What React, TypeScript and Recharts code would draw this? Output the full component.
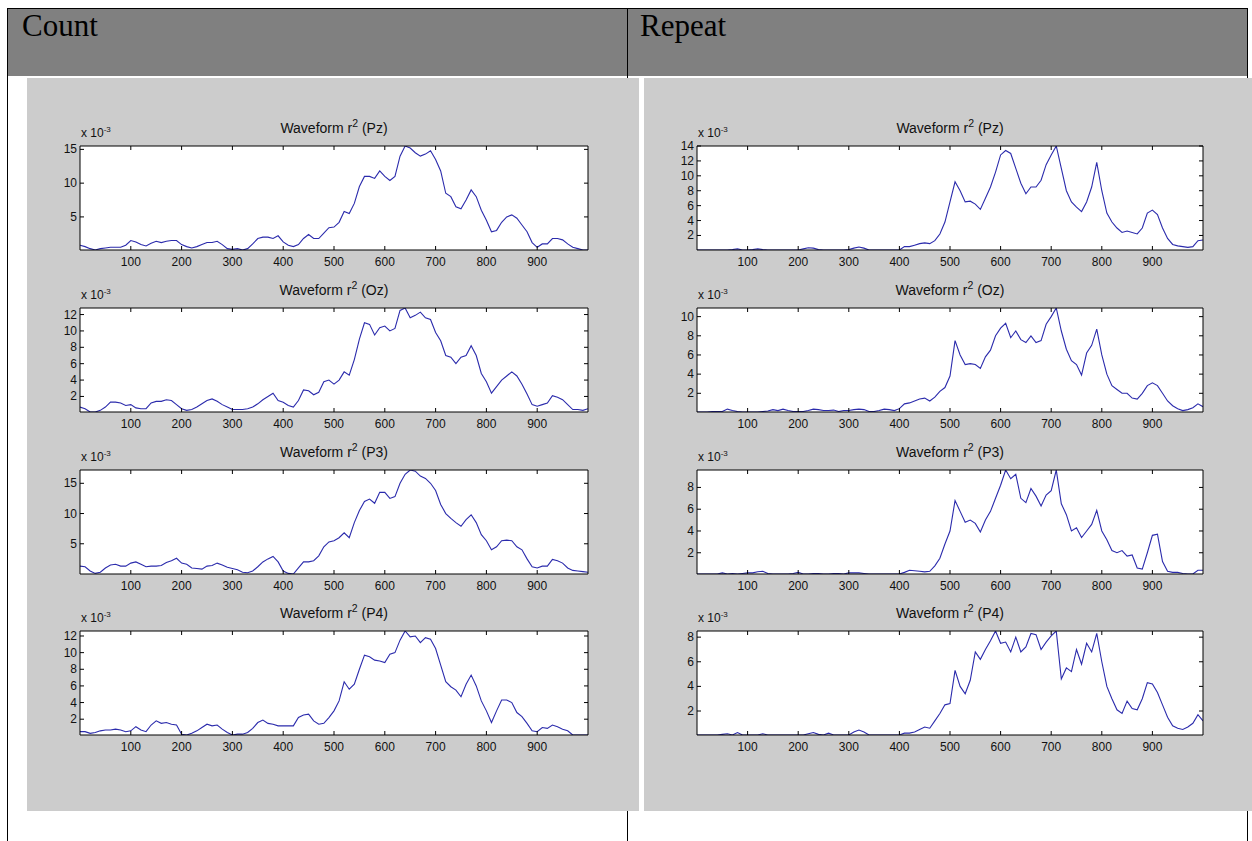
import React from "react";
import { LineChart, Line, XAxis, YAxis, CartesianGrid } from "recharts";

// time axis, ms (sample every 10 ms)
const SAMPLE_MS = [
  0, 10, 20, 30, 40, 50, 60, 70, 80, 90,
  100, 110, 120, 130, 140, 150, 160, 170, 180, 190,
  200, 210, 220, 230, 240, 250, 260, 270, 280, 290,
  300, 310, 320, 330, 340, 350, 360, 370, 380, 390,
  400, 410, 420, 430, 440, 450, 460, 470, 480, 490,
  500, 510, 520, 530, 540, 550, 560, 570, 580, 590,
  600, 610, 620, 630, 640, 650, 660, 670, 680, 690,
  700, 710, 720, 730, 740, 750, 760, 770, 780, 790,
  800, 810, 820, 830, 840, 850, 860, 870, 880, 890,
  900, 910, 920, 930, 940, 950, 960, 970, 980, 990,
  1000,
];

// r^2 values, x 10^-3
const COUNT_PZ = [
  0.8, 0.6, 0.3, 0.1, 0.3, 0.4, 0.5, 0.5, 0.5, 0.8,
  1.5, 1.3, 0.9, 0.7, 1.1, 1.4, 1.2, 1.4, 1.5, 1.5,
  0.9, 0.6, 0.4, 0.6, 0.9, 1.2, 1.2, 1.4, 0.9, 0.3,
  0.2, 0.3, 0.1, 0.3, 1.0, 1.8, 2.0, 2.0, 1.8, 2.2,
  1.3, 0.8, 0.6, 0.9, 1.8, 2.4, 1.8, 1.8, 2.6, 3.4,
  3.5, 4.2, 5.8, 5.5, 7.0, 9.5, 11.0, 11.0, 10.7, 11.8,
  11.0, 10.4, 11.0, 14.0, 15.5, 15.2, 14.5, 14.0, 14.3, 14.8,
  13.5, 11.8, 8.5, 8.0, 6.5, 6.2, 7.5, 9.0, 8.0, 6.0,
  4.5, 2.8, 3.0, 4.2, 5.0, 5.3, 4.8, 3.8, 2.8, 1.2,
  0.5, 1.0, 1.0, 1.8, 1.8, 1.6, 1.0, 0.5, 0.3, 0.1,
  0.1,
];
const COUNT_OZ = [
  0.7, 0.5, 0.1, 0.1, 0.3, 0.7, 1.3, 1.3, 1.2, 0.9,
  1.0, 0.6, 0.5, 0.5, 1.2, 1.4, 1.4, 1.6, 1.5, 1.0,
  0.5, 0.3, 0.4, 0.7, 1.1, 1.5, 1.7, 1.4, 1.0, 0.7,
  0.4, 0.4, 0.4, 0.5, 0.7, 1.1, 1.6, 2.0, 2.4, 1.5,
  1.3, 0.9, 0.7, 1.5, 2.8, 2.7, 2.2, 2.5, 3.8, 4.0,
  3.5, 4.0, 5.0, 4.6, 6.5, 9.0, 11.0, 10.8, 9.5, 10.4,
  10.6, 10.0, 10.3, 12.5, 12.8, 11.6, 11.9, 12.3, 11.6, 11.4,
  9.8, 8.8, 7.0, 6.8, 6.0, 6.8, 7.0, 8.2, 7.0, 4.8,
  3.8, 2.4, 3.2, 4.0, 4.5, 5.0, 4.5, 3.5, 2.3, 1.0,
  0.8, 1.0, 1.2, 2.1, 1.9, 1.6, 1.0, 0.4, 0.4, 0.3,
  0.5,
];
const COUNT_P3 = [
  1.3, 1.2, 0.5, 0.1, 0.3, 1.0, 1.5, 1.6, 1.3, 1.3,
  1.8, 2.0, 1.6, 1.2, 1.3, 1.3, 1.4, 1.9, 2.2, 2.6,
  1.8, 1.6, 1.0, 0.9, 0.8, 1.3, 1.4, 1.8, 1.5, 1.1,
  0.9, 0.7, 0.3, 0.2, 0.5, 1.2, 2.0, 2.5, 2.9, 2.0,
  0.5, 0.1, 0.0, 1.0, 2.0, 2.0, 2.2, 3.0, 4.5, 5.3,
  5.5, 6.0, 6.8, 6.0, 8.5, 10.5, 12.0, 12.4, 11.7, 13.5,
  13.5, 12.5, 12.8, 15.0, 16.5, 17.2, 17.0, 16.2, 15.8, 15.0,
  13.8, 11.5, 10.0, 9.2, 8.5, 7.9, 9.0, 9.8, 8.5, 6.5,
  5.5, 4.0, 4.5, 5.5, 5.6, 5.5, 4.5, 4.0, 2.5, 1.2,
  1.0, 1.3, 1.3, 2.4, 2.2, 1.8, 1.0, 0.6, 0.5, 0.4,
  0.3,
];
const COUNT_P4 = [
  0.5, 0.5, 0.3, 0.4, 0.6, 0.7, 0.7, 0.8, 0.7, 0.5,
  0.6, 1.1, 0.7, 0.5, 1.3, 1.8, 1.5, 1.6, 1.4, 1.3,
  0.2, 0.1, 0.3, 0.6, 1.0, 1.4, 1.2, 1.3, 0.8, 0.4,
  0.1, 0.2, 0.2, 0.4, 0.9, 1.6, 1.9, 1.5, 1.4, 1.2,
  1.2, 1.2, 1.2, 2.2, 2.5, 2.6, 1.8, 1.4, 1.5, 2.2,
  3.0, 4.2, 6.5, 5.6, 6.2, 8.0, 9.7, 9.5, 9.1, 9.0,
  8.8, 9.8, 10.0, 11.5, 12.6, 11.9, 12.0, 11.2, 11.8, 11.6,
  10.5, 8.5, 6.5, 5.9, 5.5, 4.7, 6.2, 7.3, 6.0, 4.2,
  3.0, 1.6, 3.0, 4.3, 4.3, 4.0, 2.8, 2.3, 1.5, 0.6,
  0.5, 1.0, 0.9, 1.3, 1.1, 0.8, 0.6, 0.1, 0.1, 0.1,
  0.1,
];
const REPEAT_PZ = [
  0.05, 0.05, 0.05, 0.05, 0.05, 0.05, 0.05, 0.1, 0.2, 0.05,
  0.05, 0.1, 0.2, 0.1, 0.05, 0.05, 0.05, 0.05, 0.05, 0.05,
  0.05, 0.2, 0.35, 0.3, 0.1, 0.05, 0.05, 0.05, 0.05, 0.05,
  0.1, 0.3, 0.45, 0.3, 0.05, 0.05, 0.05, 0.05, 0.05, 0.05,
  0.05, 0.5, 0.5, 0.7, 0.9, 1.0, 0.9, 1.3, 2.2, 3.8,
  6.5, 9.2, 8.0, 6.5, 6.6, 6.2, 5.5, 7.0, 8.5, 10.5,
  12.8, 13.4, 13.0, 11.0, 9.0, 7.6, 8.5, 8.5, 9.4, 11.5,
  12.8, 14.0, 11.0, 8.0, 6.5, 5.8, 5.2, 6.5, 8.5, 11.8,
  8.0, 5.0, 3.8, 3.0, 2.4, 2.6, 2.4, 2.2, 3.0, 5.0,
  5.4, 4.8, 3.0, 1.6, 0.8, 0.6, 0.5, 0.4, 0.5, 1.3,
  1.4,
];
const REPEAT_OZ = [
  0.05, 0.05, 0.05, 0.1, 0.1, 0.1, 0.35, 0.2, 0.1, 0.05,
  0.05, 0.05, 0.05, 0.1, 0.15, 0.3, 0.2, 0.35, 0.2, 0.1,
  0.1, 0.1, 0.2, 0.35, 0.3, 0.2, 0.2, 0.25, 0.1, 0.2,
  0.2, 0.3, 0.35, 0.3, 0.1, 0.1, 0.2, 0.35, 0.3, 0.2,
  0.4, 0.9, 1.0, 1.2, 1.4, 1.5, 1.2, 1.6, 2.2, 2.6,
  3.8, 7.5, 6.0, 5.0, 5.1, 5.0, 4.6, 5.8, 6.5, 8.0,
  8.8, 9.3, 7.8, 8.5, 7.6, 7.3, 8.0, 7.3, 7.5, 9.2,
  10.0, 10.9, 8.5, 6.6, 5.4, 5.0, 3.9, 6.2, 7.0, 8.7,
  6.0, 4.0, 2.8, 2.4, 2.0, 2.0, 1.5, 1.4, 2.0, 2.8,
  3.1, 2.8, 2.0, 1.2, 0.7, 0.4, 0.2, 0.3, 0.5, 0.9,
  0.6,
];
const REPEAT_P3 = [
  0.05, 0.05, 0.05, 0.05, 0.05, 0.15, 0.05, 0.1, 0.05, 0.1,
  0.15, 0.15, 0.25, 0.3, 0.1, 0.05, 0.05, 0.05, 0.05, 0.1,
  0.2, 0.05, 0.05, 0.1, 0.1, 0.05, 0.05, 0.1, 0.1, 0.05,
  0.15, 0.15, 0.15, 0.1, 0.05, 0.05, 0.05, 0.05, 0.05, 0.05,
  0.05, 0.2, 0.4, 0.35, 0.3, 0.25, 0.3, 0.8, 1.5, 2.8,
  4.0, 6.8, 5.8, 4.8, 5.0, 4.7, 3.9, 5.0, 5.8, 7.0,
  8.2, 9.6, 8.8, 9.2, 7.0, 6.6, 7.9, 7.2, 6.3, 7.3,
  7.7, 9.6, 6.5, 5.5, 4.0, 4.3, 3.4, 4.0, 4.6, 5.9,
  4.0, 3.2, 2.2, 2.0, 2.2, 1.7, 1.8, 0.6, 0.5, 2.0,
  3.6, 3.7, 1.2, 0.3, 0.2, 0.2, 0.1, 0.05, 0.05, 0.4,
  0.4,
];
const REPEAT_P4 = [
  0.05, 0.05, 0.05, 0.05, 0.05, 0.1, 0.15, 0.05, 0.25, 0.05,
  0.05, 0.05, 0.05, 0.15, 0.05, 0.05, 0.05, 0.05, 0.05, 0.05,
  0.05, 0.05, 0.15, 0.25, 0.1, 0.05, 0.2, 0.05, 0.05, 0.05,
  0.05, 0.3, 0.45, 0.3, 0.05, 0.05, 0.05, 0.05, 0.05, 0.05,
  0.05, 0.2, 0.2, 0.3, 0.5, 0.7, 0.6, 1.2, 1.8, 2.5,
  2.6, 5.3, 4.0, 3.4, 4.5, 6.8, 6.2, 7.0, 7.7, 8.5,
  7.5, 7.6, 6.8, 8.0, 6.8, 7.2, 8.3, 8.2, 7.0, 7.6,
  8.1, 8.5, 4.6, 5.5, 5.2, 7.0, 5.8, 7.5, 6.8, 8.3,
  6.0, 4.0, 3.0, 2.1, 1.8, 2.8, 2.2, 2.1, 3.0, 4.3,
  4.2, 3.5, 2.5, 1.5, 0.8, 0.6, 0.5, 0.7, 1.0, 1.7,
  1.2,
];

const X_TICKS = [100, 200, 300, 400, 500, 600, 700, 800, 900];
const Y_TICKS_5 = [5, 10, 15];
const Y_TICKS_12 = [2, 4, 6, 8, 10, 12];
const Y_TICKS_14 = [2, 4, 6, 8, 10, 12, 14];
const Y_TICKS_10 = [2, 4, 6, 8, 10];
const Y_TICKS_8 = [2, 4, 6, 8];

const COLUMNS = ["Count", "Repeat"];
const CHANNELS = ["Pz", "Oz", "P3", "P4"];

const SANS = "'Liberation Sans', Arial, sans-serif";
const LINE_COLOR = "#2b2bac";
const TICK = 4;

const ROW_TOPS = [146, 308, 470, 631];
const PLOT_H = 104;

const BottomTick = (p: any) => (
  <g>
    <line x1={p.x} x2={p.x} y1={p.y} y2={p.y - TICK} stroke="#000" />
    <text x={p.x} y={p.y + 16} textAnchor="middle" fontSize={12} fontFamily={SANS} fill="#111">
      {p.payload.value}
    </text>
  </g>
);
const TopTick = (p: any) => (
  <line x1={p.x} x2={p.x} y1={p.y} y2={p.y + TICK} stroke="#000" />
);
const LeftTick = (p: any) => (
  <g>
    <line x1={p.x} x2={p.x + TICK} y1={p.y} y2={p.y} stroke="#000" />
    <text x={p.x - 3} y={p.y + 4} textAnchor="end" fontSize={12} fontFamily={SANS} fill="#111">
      {p.payload.value}
    </text>
  </g>
);
const RightTick = (p: any) => (
  <line x1={p.x} x2={p.x - TICK} y1={p.y} y2={p.y} stroke="#000" />
);

function Subplot({
  channel,
  values,
  yTicks,
  left,
  top,
  plotWidth,
}: {
  channel: string;
  values: number[];
  yTicks: number[];
  left: number;
  top: number;
  plotWidth: number;
}) {
  const data = SAMPLE_MS.map((ms, i) => ({ ms, r2: values[i] }));
  const yDomain = [Math.min(...values), Math.max(...values)];
  const axisLine = { stroke: "#000", strokeWidth: 1 };

  return (
    <>
      <div
        style={{
          position: "absolute",
          left,
          top: top - 26,
          width: plotWidth,
          textAlign: "center",
          fontFamily: SANS,
          fontSize: 14,
          lineHeight: "16px",
          color: "#111",
        }}
      >
        Waveform r<sup style={{ fontSize: 10.5, lineHeight: 0 }}>2</sup> ({channel})
      </div>
      <div
        style={{
          position: "absolute",
          left: left + 1,
          top: top - 21,
          fontFamily: SANS,
          fontSize: 12,
          lineHeight: "16px",
          color: "#111",
        }}
      >
        x 10<sup style={{ fontSize: 8, lineHeight: 0 }}>-3</sup>
      </div>
      <div style={{ position: "absolute", left: left - 40, top: top - 10 }}>
        <LineChart
          width={plotWidth + 50}
          height={PLOT_H + 35}
          data={data}
          margin={{ top: 9, right: 9, bottom: 0, left: 0 }}
        >
          <CartesianGrid horizontal={false} vertical={false} fill="#fff" />
          <XAxis
            dataKey="ms"
            type="number"
            domain={[0, 1000]}
            ticks={X_TICKS}
            interval={0}
            tickSize={0}
            tickMargin={0}
            tickLine={false}
            axisLine={axisLine}
            tick={(p: any) => <BottomTick {...p} />}
            height={25}
            allowDataOverflow
          />
          <XAxis
            xAxisId="top"
            orientation="top"
            dataKey="ms"
            type="number"
            domain={[0, 1000]}
            ticks={X_TICKS}
            interval={0}
            tickSize={0}
            tickMargin={0}
            tickLine={false}
            axisLine={axisLine}
            tick={(p: any) => <TopTick {...p} />}
            height={1}
            allowDataOverflow
          />
          <YAxis
            type="number"
            domain={yDomain}
            ticks={yTicks}
            interval={0}
            tickSize={0}
            tickMargin={0}
            tickLine={false}
            axisLine={axisLine}
            tick={(p: any) => <LeftTick {...p} />}
            width={40}
            allowDataOverflow
          />
          <YAxis
            yAxisId="right"
            orientation="right"
            type="number"
            domain={yDomain}
            ticks={yTicks}
            interval={0}
            tickSize={0}
            tickMargin={0}
            tickLine={false}
            axisLine={axisLine}
            tick={(p: any) => <RightTick {...p} />}
            width={1}
            allowDataOverflow
          />
          {/* invisible twin so the top/right frame axes get a scale */}
          <Line
            xAxisId="top"
            yAxisId="right"
            type="linear"
            dataKey="r2"
            stroke="none"
            dot={false}
            isAnimationActive={false}
          />
          <Line
            type="linear"
            dataKey="r2"
            stroke={LINE_COLOR}
            strokeWidth={1.1}
            dot={false}
            isAnimationActive={false}
          />
        </LineChart>
      </div>
    </>
  );
}

const COUNT_SERIES = [COUNT_PZ, COUNT_OZ, COUNT_P3, COUNT_P4];
const COUNT_TICKS = [Y_TICKS_5, Y_TICKS_12, Y_TICKS_5, Y_TICKS_12];
const REPEAT_SERIES = [REPEAT_PZ, REPEAT_OZ, REPEAT_P3, REPEAT_P4];
const REPEAT_TICKS = [Y_TICKS_14, Y_TICKS_10, Y_TICKS_8, Y_TICKS_8];

export default function App() {
  const headerText: React.CSSProperties = {
    position: "absolute",
    top: 10,
    fontFamily: "'Liberation Serif', 'Times New Roman', serif",
    fontSize: 31,
    lineHeight: "31px",
    color: "#000",
  };
  return (
    <div
      style={{
        position: "absolute",
        left: 0,
        top: 0,
        width: 1252,
        height: 841,
        background: "#fff",
        overflow: "hidden",
      }}
    >
      {/* table header row */}
      <div style={{ position: "absolute", left: 7, top: 8, width: 1241, height: 68, background: "#808080" }} />
      <div style={{ position: "absolute", left: 7, top: 8, width: 1241, height: 1, background: "#000" }} />
      <div style={{ position: "absolute", left: 7, top: 8, width: 1, height: 833, background: "#000" }} />
      <div style={{ position: "absolute", left: 1247, top: 8, width: 1, height: 833, background: "#000" }} />
      <div style={{ position: "absolute", left: 627, top: 8, width: 1, height: 833, background: "#000" }} />
      <div style={{ ...headerText, left: 22 }}>{COLUMNS[0]}</div>
      <div style={{ ...headerText, left: 640 }}>{COLUMNS[1]}</div>

      {/* figure panels */}
      <div style={{ position: "absolute", left: 27, top: 78, width: 612, height: 733, background: "#cccccc" }} />
      <div style={{ position: "absolute", left: 644, top: 78, width: 608, height: 733, background: "#cccccc" }} />

      {CHANNELS.map((ch, i) => (
        <Subplot
          key={"c" + ch}
          channel={ch}
          values={COUNT_SERIES[i]}
          yTicks={COUNT_TICKS[i]}
          left={80}
          top={ROW_TOPS[i]}
          plotWidth={508}
        />
      ))}
      {CHANNELS.map((ch, i) => (
        <Subplot
          key={"r" + ch}
          channel={ch}
          values={REPEAT_SERIES[i]}
          yTicks={REPEAT_TICKS[i]}
          left={697}
          top={ROW_TOPS[i]}
          plotWidth={506}
        />
      ))}
    </div>
  );
}
